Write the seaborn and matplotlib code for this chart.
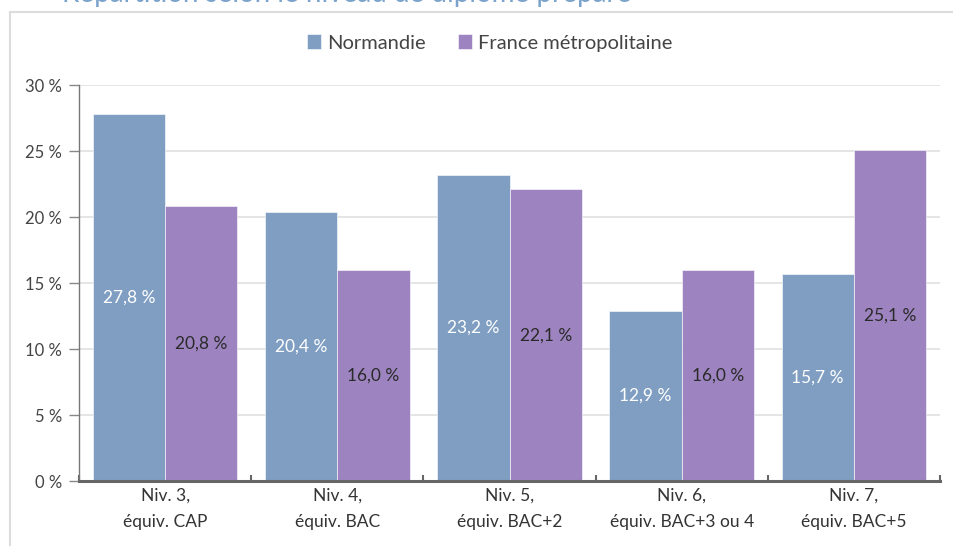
import pandas as pd
import numpy as np
import matplotlib.pyplot as plt
import seaborn as sns
from matplotlib.lines import Line2D
from matplotlib.ticker import FixedLocator

# Data
categories = ["Niv. 3,\néquiv. CAP", "Niv. 4,\néquiv. BAC", "Niv. 5,\néquiv. BAC+2",
              "Niv. 6,\néquiv. BAC+3 ou 4", "Niv. 7,\néquiv. BAC+5"]
normandie = [27.8, 20.4, 23.2, 12.9, 15.7]
france = [20.8, 16.0, 22.1, 16.0, 25.1]
series = ["Normandie", "France métropolitaine"]
colors = ["#7f9ec2", "#9d84c0"]

df = pd.DataFrame({
    "Niveau": categories * 2,
    "Zone": [series[0]] * len(categories) + [series[1]] * len(categories),
    "Part": normandie + france,
})

sns.set_theme(style="white")
plt.rcParams["font.family"] = ["Lato", "DejaVu Sans"]

fig = plt.figure(figsize=(9.54, 5.46), dpi=100)
ax = fig.add_axes([79 / 954, 1 - 481 / 546, (940 - 79) / 954, (481 - 85) / 546])

sns.barplot(data=df, x="Niveau", y="Part", hue="Zone", palette=colors,
            width=0.84, saturation=1, ax=ax, edgecolor="white", linewidth=0.4)

# value labels in the middle of each bar
label_colors = ["white", "#2a2a2a"]
for cont, col in zip(ax.containers, label_colors):
    vals = [b.get_height() for b in cont]
    ax.bar_label(cont, labels=[f"{v:.1f} %".replace(".", ",") for v in vals],
                 label_type="center", color=col, fontsize=12.5)

# axes styling
ax.set_ylim(0, 30)
ax.set_xlim(-0.5, len(categories) - 0.5)
ax.set_yticks(np.arange(0, 31, 5))
ax.set_yticklabels([f"{v} %" for v in range(0, 31, 5)], fontsize=12, color="#444444")
ax.set_xticklabels(categories, fontsize=12.5, color="#333333", linespacing=1.8)
ax.xaxis.set_minor_locator(FixedLocator(np.arange(-0.5, len(categories), 1.0)))
ax.tick_params(axis="x", which="major", length=0, pad=5)
ax.tick_params(axis="x", which="minor", direction="in", length=4, width=1.5,
               color="#666666", bottom=True)
ax.tick_params(axis="y", direction="out", length=7, width=1, color="#888888",
               left=True, pad=5)
ax.set_xlabel("")
ax.set_ylabel("")
ax.yaxis.grid(True, color="#e0e0e0", linewidth=1.2)
ax.set_axisbelow(True)
for s in ["top", "right"]:
    ax.spines[s].set_visible(False)
ax.spines["left"].set_color("#777777")
ax.spines["left"].set_linewidth(1)
ax.spines["bottom"].set_color("#666666")
ax.spines["bottom"].set_linewidth(2.2)

# legend
ax.legend(loc="center", bbox_to_anchor=(0.5 - (79 + 861 / 2 - 490) / 861, 1 + (85 - 43) / 396),
          ncol=2, frameon=False, fontsize=14.5, handlelength=0.7, handleheight=0.7,
          handletextpad=0.3, columnspacing=1.6, labelcolor="#444444")

# frame and cut-off title
fig.add_artist(Line2D([10 / 954, 1], [1 - 12 / 546] * 2, color="#dcdcdc", lw=1.5))
fig.add_artist(Line2D([10 / 954] * 2, [0, 1 - 12 / 546], color="#dcdcdc", lw=1.5))
fig.text(62 / 954, 1 - 2 / 546, "Répartition selon le niveau de diplôme préparé",
         fontsize=20, color="#7ba3cc", va="baseline", ha="left")

plt.savefig("out.png", dpi=100)
